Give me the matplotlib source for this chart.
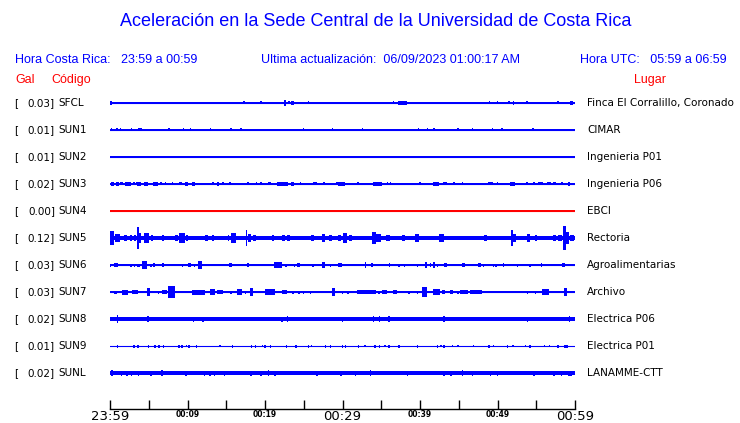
import matplotlib
matplotlib.use("Agg")
import matplotlib.pyplot as plt

# stations, peak values (Gal) and places
codes = ["SFCL", "SUN1", "SUN2", "SUN3", "SUN4", "SUN5", "SUN6", "SUN7", "SUN8", "SUN9", "SUNL"]
peaks = ["0.03", "0.01", "0.01", "0.02", "0.00", "0.12", "0.03", "0.03", "0.02", "0.01", "0.02"]
places = ["Finca El Corralillo, Coronado", "CIMAR", "Ingenieria P01", "Ingenieria P06", "EBCI",
          "Rectoria", "Agroalimentarias", "Archivo", "Electrica P06", "Electrica P01", "LANAMME-CTT"]
trace_colors = ["blue"] * 4 + ["red"] + ["blue"] * 6

# background noise level of each trace (half width)
noise = [0.6, 0.6, 0.5, 0.6, 0.5, 1.8, 0.6, 0.6, 2.0, 0.5, 1.8]

# bursts: (start minute, end minute, half amplitude)
bursts = {
    "SFCL": [(0.0, 0.2, 2), (8.8, 8.8, 1), (16.4, 16.4, 1), (17.2, 17.2, 1.5), (19.4, 19.4, 1.5),
             (22.5, 22.6, 3), (23.0, 23.1, 1.5), (23.4, 23.8, 2), (25.5, 25.5, 1.5), (27.5, 27.5, 1),
             (29.3, 29.3, 1), (36.5, 36.5, 1.5), (37.2, 38.3, 2), (48.9, 48.9, 1.5), (49.9, 49.9, 1.5),
             (50.5, 50.5, 1), (51.3, 51.6, 1.5), (52.0, 52.1, 2), (53.7, 53.7, 1.5), (55.6, 55.6, 1),
             (57.7, 57.7, 1.5), (59.3, 59.7, 2)],
    "SUN1": [(0.1, 0.1, 1.5), (0.8, 0.8, 1.5), (1.3, 1.3, 1.5), (2.7, 2.7, 1.5), (3.4, 3.4, 1),
             (3.6, 4.1, 1.5), (4.5, 4.5, 1), (4.8, 4.8, 1), (5.0, 5.0, 1), (7.5, 7.5, 1.5),
             (9.4, 9.4, 1.5), (10.1, 10.1, 1), (10.3, 10.3, 1.5), (12.9, 12.9, 1.5), (15.5, 15.5, 1.5),
             (16.8, 16.8, 1.5), (20.4, 20.4, 1), (21.0, 21.0, 1), (24.9, 24.9, 1.5), (28.6, 28.8, 1.5),
             (32.5, 32.5, 1.5), (36.1, 36.1, 1), (37.0, 37.0, 1), (37.4, 37.4, 1), (39.7, 39.7, 1.5),
             (40.9, 40.9, 1.5), (41.7, 41.7, 1.5), (43.0, 43.0, 1), (44.8, 44.8, 1.5), (46.2, 46.2, 1),
             (46.7, 46.7, 1.5), (49.3, 49.3, 1.5), (50.5, 50.5, 1.5), (51.4, 51.4, 1), (52.3, 52.3, 1),
             (54.5, 54.7, 1.5), (55.5, 55.5, 1)],
    "SUN2": [(34.1, 34.1, 1)],
    "SUN3": [(0.1, 0.5, 2), (0.8, 1.2, 2), (1.3, 1.7, 1.5), (1.9, 2.7, 2), (3.0, 3.0, 1.5),
             (3.4, 3.4, 1.5), (3.5, 4.0, 2), (4.4, 4.9, 2), (5.5, 6.2, 2), (6.5, 6.5, 1.5),
             (7.1, 7.1, 1.5), (8.0, 8.0, 1.5), (8.5, 8.5, 1), (8.9, 9.3, 1.5), (9.7, 10.1, 2),
             (10.6, 11.0, 2), (13.2, 13.4, 1.5), (13.8, 14.1, 2), (14.4, 14.7, 1.5), (15.4, 15.4, 1.5),
             (16.1, 16.1, 1), (17.7, 17.7, 1.5), (18.3, 18.3, 1), (18.8, 18.8, 1.5), (19.4, 19.6, 1.5),
             (20.4, 20.8, 1.5), (21.5, 23.0, 2), (23.4, 23.7, 2), (24.5, 24.5, 1.5), (25.2, 25.2, 1),
             (26.2, 26.7, 1.5), (27.5, 27.5, 1.5), (28.4, 28.4, 1), (29.2, 29.2, 1.5), (29.4, 30.3, 2),
             (31.0, 31.0, 1), (31.9, 31.9, 1.5), (33.9, 35.1, 2), (35.7, 35.7, 1.5), (36.1, 36.1, 1.5),
             (36.9, 36.9, 1), (39.9, 39.9, 1.5), (40.8, 40.8, 1), (41.7, 42.5, 2), (43.0, 43.5, 1.5),
             (44.3, 44.3, 1.5), (45.4, 45.4, 1.5), (48.8, 49.4, 1.5), (49.9, 49.9, 1.5), (51.0, 51.0, 1),
             (51.6, 52.3, 2), (53.7, 53.9, 1.5), (54.6, 54.6, 1.5), (55.2, 55.9, 1.5), (56.4, 56.9, 1.5),
             (57.2, 57.5, 1.5), (58.2, 58.5, 1.5), (59.1, 59.4, 2)],
    "SUN4": [],
    "SUN5": [(0.0, 0.5, 7), (0.6, 1.3, 4), (1.8, 2.2, 3), (2.6, 2.8, 3), (3.1, 3.4, 3),
             (3.5, 3.6, 11), (3.7, 4.0, 5), (4.4, 5.0, 5), (5.3, 5.5, 3), (6.7, 7.0, 3),
             (8.4, 8.8, 3), (8.9, 9.7, 5), (9.8, 10.1, 3), (12.3, 12.6, 3), (13.2, 13.4, 3),
             (14.1, 14.1, 2), (15.2, 15.4, 3), (15.6, 16.3, 5), (17.5, 17.7, 8), (17.8, 18.2, 4),
             (18.5, 18.8, 3), (19.5, 19.7, 2), (20.9, 21.2, 3), (22.2, 22.6, 3), (22.8, 23.2, 3),
             (25.2, 25.4, 2), (25.9, 26.3, 3), (27.4, 27.7, 4), (28.3, 28.6, 3), (29.4, 29.8, 3),
             (30.1, 30.6, 5), (30.8, 31.2, 3), (31.5, 31.7, 2), (33.8, 34.3, 6), (34.3, 35.0, 4),
             (35.6, 36.1, 3), (37.7, 38.1, 3), (39.4, 39.9, 4), (42.1, 42.5, 2), (42.5, 43.1, 4),
             (45.5, 45.9, 2), (46.5, 46.7, 2), (48.3, 48.6, 3), (49.0, 49.3, 2), (51.7, 52.0, 8),
             (52.0, 52.4, 4), (53.8, 54.2, 4), (54.8, 55.1, 3), (57.2, 57.5, 3), (57.8, 58.3, 3),
             (58.5, 58.8, 12), (58.8, 59.2, 6), (59.4, 59.9, 3)],
    "SUN6": [(0.0, 0.0, 1.5), (0.5, 1.0, 2), (2.6, 2.6, 1.5), (3.1, 3.1, 1.5), (3.5, 3.5, 1.5),
             (3.7, 3.7, 1.5), (4.1, 4.8, 4), (5.2, 5.2, 1.5), (5.5, 5.8, 2), (6.7, 7.0, 2),
             (8.5, 8.5, 1), (9.3, 9.3, 1.5), (10.1, 10.5, 2), (10.8, 10.8, 1.5), (11.4, 11.9, 4),
             (15.4, 15.7, 2), (17.7, 17.7, 2), (21.2, 22.2, 3), (22.6, 22.6, 1.5), (23.7, 23.7, 1.5),
             (24.1, 24.5, 2), (26.1, 26.1, 1.5), (27.4, 27.7, 3), (28.4, 28.4, 1.5), (29.4, 29.9, 2),
             (32.9, 32.9, 3), (33.7, 33.9, 2), (36.0, 36.0, 2), (37.2, 37.2, 1.5), (37.9, 37.9, 1.5),
             (39.6, 39.6, 1.5), (40.6, 40.9, 3), (41.3, 41.3, 2), (41.7, 41.9, 3), (42.2, 42.2, 1.5),
             (43.1, 43.5, 2), (45.4, 45.8, 2), (47.5, 47.9, 2), (48.1, 48.1, 1.5), (49.4, 49.4, 1.5),
             (49.7, 49.7, 1.5), (50.7, 50.8, 2), (52.5, 52.5, 1.5), (54.1, 54.1, 1.5), (55.6, 55.6, 2),
             (58.3, 58.7, 2)],
    "SUN7": [(0.5, 0.9, 1.5), (1.5, 2.3, 2.5), (2.8, 3.6, 2), (4.8, 5.2, 4), (6.2, 6.2, 1.5),
             (6.7, 7.4, 2), (7.5, 8.4, 6), (10.6, 12.3, 2.5), (12.9, 13.5, 3), (13.8, 14.6, 2),
             (15.5, 15.5, 1.5), (16.4, 17.0, 3), (17.4, 17.4, 1.5), (18.1, 18.5, 4), (20.0, 21.3, 3),
             (22.2, 22.8, 2), (23.5, 23.5, 1.5), (24.3, 24.3, 1.5), (24.9, 24.9, 1.5), (25.8, 25.8, 1.5),
             (28.6, 29.0, 4), (29.9, 29.9, 1.5), (30.6, 30.6, 1.5), (31.9, 34.3, 2), (34.6, 34.6, 1.5),
             (35.1, 35.7, 2), (36.5, 37.0, 2), (38.5, 38.7, 1.5), (39.6, 39.6, 1.5), (40.3, 40.9, 5),
             (41.7, 42.6, 3), (42.8, 43.2, 2), (43.9, 44.3, 2), (44.8, 44.8, 1.5), (45.2, 46.2, 2),
             (46.5, 48.0, 2), (53.8, 53.8, 1.5), (54.8, 54.8, 1.5), (55.7, 56.6, 3), (58.6, 59.0, 4)],
    "SUN8": [(0.9, 0.9, 4), (4.8, 4.8, 3), (10.7, 10.7, 2.5), (11.9, 11.9, 2.5), (22.1, 22.1, 2.5),
             (22.8, 22.8, 3), (29.9, 29.9, 2.5), (33.9, 33.9, 3), (34.7, 34.7, 3), (35.9, 35.9, 3),
             (43.0, 43.0, 3), (53.8, 53.8, 2.5), (59.2, 59.2, 3)],
    "SUN9": [(0.9, 0.9, 1.5), (3.0, 3.0, 1.5), (3.5, 3.7, 1.5), (4.9, 4.9, 1.5), (5.7, 5.7, 1.5),
             (6.2, 6.5, 1.5), (6.8, 6.8, 1.5), (8.8, 8.8, 1.5), (9.2, 9.2, 1.5), (9.8, 9.8, 1),
             (10.1, 10.1, 1.5), (11.1, 11.1, 1.5), (14.1, 14.1, 1), (15.7, 15.7, 1.5), (18.2, 18.2, 1.5),
             (18.7, 18.7, 1.5), (19.6, 19.6, 1), (19.9, 19.9, 1.5), (20.6, 20.6, 1.5), (22.7, 22.7, 1.5),
             (23.9, 23.9, 1.5), (25.5, 25.5, 1.5), (25.9, 25.9, 1), (27.7, 27.9, 1.5), (28.4, 28.4, 1.5),
             (29.9, 29.9, 1.5), (30.3, 30.3, 1.5), (32.0, 32.0, 1.5), (32.8, 32.8, 1), (34.1, 34.1, 1.5),
             (34.7, 34.8, 1.5), (35.4, 35.4, 1), (35.9, 35.9, 1.5), (37.2, 37.4, 1.5), (39.6, 39.6, 1.5),
             (42.2, 42.2, 1.5), (42.6, 42.6, 1), (43.0, 43.0, 1.5), (44.1, 44.1, 1), (44.8, 44.8, 1),
             (46.8, 46.8, 1), (48.8, 48.8, 1.5), (49.4, 49.4, 1), (51.2, 51.4, 1.5), (51.9, 51.9, 1),
             (53.5, 53.5, 1), (54.1, 54.1, 1.5), (56.0, 56.0, 1), (56.6, 56.6, 1), (57.7, 57.7, 1.5),
             (58.6, 59.1, 1.5)],
    "SUNL": [(0.1, 0.4, 3), (1.4, 1.4, 2.5), (2.1, 2.1, 2.5), (2.7, 2.7, 2.5), (3.6, 3.6, 2.5),
             (5.2, 5.2, 2.5), (6.6, 6.6, 3), (9.7, 9.7, 2.5), (12.1, 12.1, 2.5), (12.8, 12.8, 2.5),
             (13.4, 13.4, 2.5), (14.7, 14.7, 2.5), (18.1, 18.1, 2.5), (19.4, 19.4, 2.5), (20.4, 20.4, 3),
             (21.2, 21.2, 2.5), (26.6, 26.6, 2.5), (29.7, 29.7, 2.5), (31.6, 31.6, 2.5), (33.5, 33.5, 3),
             (38.3, 38.3, 2.5), (43.0, 43.0, 2.5), (43.9, 43.9, 2.5), (45.4, 45.6, 3), (46.7, 46.7, 2.5),
             (49.0, 49.0, 2.5), (49.9, 49.9, 2.5), (54.6, 54.6, 2.5), (57.2, 57.2, 2.5), (58.2, 58.2, 2.5),
             (59.1, 59.6, 2.5)],
}

tick_minutes = list(range(0, 61, 5))
tick_labels = ["23:59", "", "00:09", "", "00:19", "", "00:29", "", "00:39", "", "00:49", "", "00:59"]
big_labels = ["23:59", "00:29", "00:59"]

W, H = 740, 423
BLUE = "#0000ff"
RED = "#ff0000"


def fx(px):
    return px / W


def fy(py):
    return 1 - py / H


fig = plt.figure(figsize=(7.4, 4.23), dpi=100)
fig.patch.set_facecolor("white")

ROW = 27  # vertical spacing between traces
ax = fig.add_axes([fx(110), fy(409), (575 - 110) / W, (409 - 90) / H])
ax.set_xlim(0, 60)
ax.set_ylim(306, -13)

for i, code in enumerate(codes):
    y0 = i * ROW
    c = trace_colors[i]
    ax.fill_between([0, 60], y0 - noise[i], y0 + noise[i], color=c, lw=0)
    ax.plot([0, 60], [y0, y0], color=c, lw=0.8)
    for t0, t1, a in bursts[code]:
        ax.bar(t0, 2 * a, width=max(t1 - t0, 0.18), bottom=y0 - a, align="edge",
               color=c, linewidth=0)

for s in ["top", "left", "right"]:
    ax.spines[s].set_visible(False)
ax.spines["bottom"].set_linewidth(1.0)
ax.set_yticks([])
ax.set_xticks(tick_minutes)
ax.set_xticklabels(tick_labels)
ax.tick_params(axis="x", direction="in", length=6.5, width=1.0, pad=1)
for lab in ax.get_xticklabels():
    if lab.get_text() in big_labels:
        lab.set_fontsize(9.5)
        lab.set_family("DejaVu Sans")
    else:
        lab.set_fontsize(5.5)
        lab.set_fontweight("bold")

# header texts
fig.text(fx(376), fy(22), "Aceleración en la Sede Central de la Universidad de Costa Rica",
         ha="center", va="center", color=BLUE, fontsize=13, family="Liberation Sans")
fig.text(fx(15), fy(60), "Hora Costa Rica:   23:59 a 00:59", ha="left", va="center",
         color=BLUE, fontsize=9, family="Liberation Sans")
fig.text(fx(261), fy(60), "Ultima actualización:  06/09/2023 01:00:17 AM", ha="left", va="center",
         color=BLUE, fontsize=9, family="Liberation Sans")
fig.text(fx(727), fy(60), "Hora UTC:   05:59 a 06:59", ha="right", va="center",
         color=BLUE, fontsize=9, family="Liberation Sans")
fig.text(fx(15), fy(80), "Gal", ha="left", va="center", color=RED, fontsize=9,
         family="Liberation Sans")
fig.text(fx(51), fy(80), "Código", ha="left", va="center", color=RED, fontsize=9,
         family="Liberation Sans")
fig.text(fx(650), fy(80), "Lugar", ha="center", va="center", color=RED, fontsize=9,
         family="Liberation Sans")

for i, code in enumerate(codes):
    py = 103 + i * ROW
    fig.text(fx(14), fy(py), "[", ha="left", va="center", fontsize=7.5, family="DejaVu Sans")
    fig.text(fx(55), fy(py), peaks[i] + "]", ha="right", va="center", fontsize=7.5,
             family="DejaVu Sans")
    fig.text(fx(58), fy(py), code, ha="left", va="center", fontsize=7.5, family="DejaVu Sans")
    fig.text(fx(587), fy(py), places[i], ha="left", va="center", fontsize=7.5,
             family="DejaVu Sans")

fig.savefig("out.png", dpi=100)
